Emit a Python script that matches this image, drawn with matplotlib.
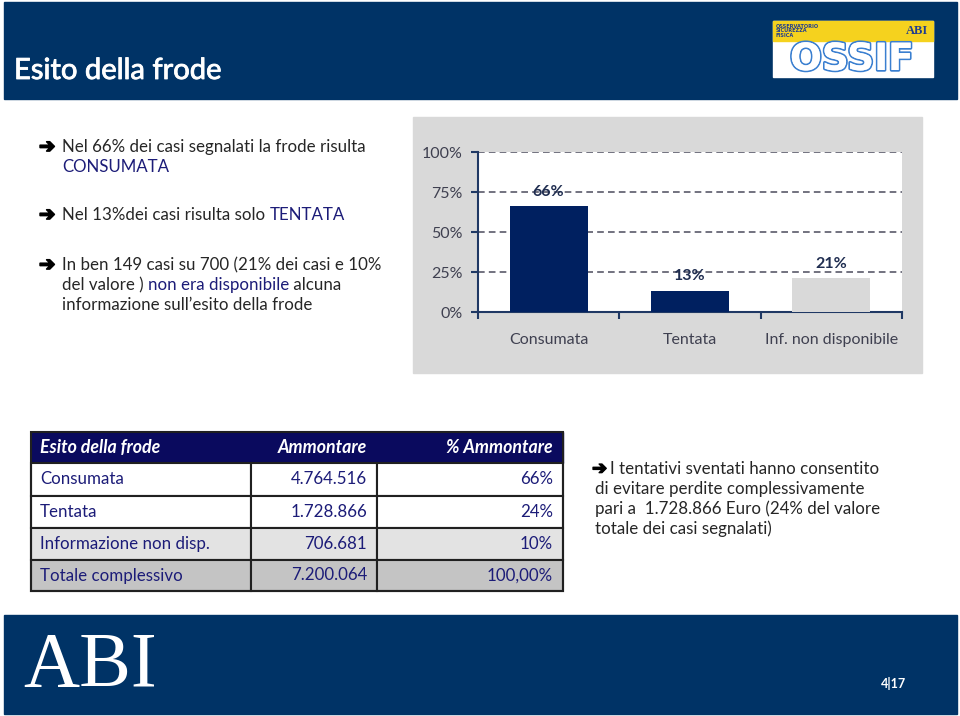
import matplotlib
matplotlib.use("Agg")
import matplotlib.pyplot as plt
from matplotlib.patches import Rectangle
import matplotlib.patheffects as pe

plt.rcParams['font.family'] = ['Lato', 'DejaVu Sans']

# chart data
cats = ['Consumata', 'Tentata', 'Inf. non disponibile']
vals = [0.66, 0.13, 0.21]
bar_colors = ['#002060', '#002060', '#D9D9D9']
yticks = [0, 0.25, 0.5, 0.75, 1.0]
ytick_labels = ['0%', '25%', '50%', '75%', '100%']

# table data
tab_header = ['Esito della frode', 'Ammontare', '% Ammontare']
tab_rows = ['Consumata', 'Tentata', 'Informazione non disp.', 'Totale complessivo']
tab_amount = ['4.764.516', '1.728.866', '706.681', '7.200.064']
tab_perc = ['66%', '24%', '10%', '100,00%']
row_fill = ['white', 'white', '#E3E3E3', '#C4C4C4']

NAVY = '#003366'
DARKTXT = '#262626'
HL = '#1C1C78'

fig = plt.figure(figsize=(9.6, 7.16), dpi=100)
bg = fig.add_axes([0, 0, 1, 1])
bg.set_xlim(0, 960)
bg.set_ylim(716, 0)
bg.axis('off')

# header band
bg.add_patch(Rectangle((4, 2), 953, 97, color=NAVY))
t = bg.text(14, 71, 'Esito della frode', color='white', fontsize=21, va='center', ha='left')
t.set_path_effects([pe.withStroke(linewidth=0.6, foreground='white')])

# OSSIF logo (rough)
bg.add_patch(Rectangle((773, 21), 160, 56, color='white'))
bg.add_patch(Rectangle((773, 21), 160, 20, color='#F5D21E'))
bg.text(776, 31, 'OSSERVATORIO\nSICUREZZA\nFISICA', fontsize=3.6, fontweight='bold',
        color='#1F3D8F', va='center', ha='left', linespacing=0.9, family='DejaVu Sans')
bg.text(928, 31, 'ABI', fontsize=9, fontweight='bold', color='#1F3D8F',
        va='center', ha='right', family='Liberation Serif')
t = bg.text(852, 60, 'OSSIF', fontsize=27, fontweight='bold', color='white',
            va='center', ha='center', family='DejaVu Sans')
t.set_path_effects([pe.withStroke(linewidth=2.5, foreground='#3A7FD0'), pe.Normal()])

# footer band
bg.add_patch(Rectangle((4, 615), 953, 99, color=NAVY))
bg.text(90, 667, 'ABI', fontsize=56, color='white', va='center', ha='center',
        family='Liberation Serif')
bg.text(893, 683, '4|17', fontsize=9, fontweight='bold', color='white', va='center', ha='center')


def colored_line(x, y, parts, size=12.2):
    prev = None
    for txt, col in parts:
        if prev is None:
            prev = bg.text(x, y, txt, color=col, fontsize=size, va='center', ha='left')
        else:
            prev = bg.annotate(txt, xy=(1, 0), xycoords=prev, color=col, fontsize=size,
                               va='bottom', ha='left')
    return prev


# bullets
arrow = '\u2794'
for yy in [147, 215, 265]:
    a = bg.text(39, yy, arrow, fontsize=14, fontweight='bold', color='black', va='center',
                ha='left', family='DejaVu Sans')
    a.set_path_effects([pe.withStroke(linewidth=1.2, foreground='black')])
colored_line(62, 147, [('Nel 66% dei casi segnalati la frode risulta', DARKTXT)])
colored_line(62, 167, [('CONSUMATA', HL)])
colored_line(62, 215, [('Nel 13%dei casi risulta solo ', DARKTXT), ('TENTATA', HL)])
colored_line(62, 265, [('In ben 149 casi su 700 (21% dei casi e 10%', DARKTXT)])
colored_line(62, 285, [('del valore ) ', DARKTXT), ('non era disponibile', HL), (' alcuna', DARKTXT)])
colored_line(62, 305, [('informazione sull\u2019esito della frode', DARKTXT)])

# chart panel
bg.add_patch(Rectangle((413, 117), 509, 256, color='#D9D9D9'))

ax = fig.add_axes([478 / 960, 1 - 312 / 716, 424 / 960, 160 / 716])
ax.set_facecolor('white')
ax.bar(range(len(cats)), vals, width=0.55, color=bar_colors, zorder=3)
ax.set_xlim(-0.5, 2.5)
ax.set_ylim(0, 1)
ax.set_yticks(yticks)
ax.set_yticklabels(ytick_labels)
ax.yaxis.grid(True, linestyle=(0, (4, 2.5)), color='#5A5A6A', linewidth=1.2)
ax.set_axisbelow(True)
for s in ['top', 'right']:
    ax.spines[s].set_visible(False)
for s in ['left', 'bottom']:
    ax.spines[s].set_color('#1F3864')
    ax.spines[s].set_linewidth(1.5)
ax.set_xticks([-0.5, 0.5, 1.5, 2.5])
ax.set_xticklabels([])
ax.set_xticks(range(len(cats)), minor=True)
ax.set_xticklabels(cats, minor=True)
ax.tick_params(axis='x', which='major', length=5, color='#1F3864', width=1.5)
ax.tick_params(axis='x', which='minor', length=0, pad=15, labelsize=11.5, labelcolor='#3F4050')
ax.tick_params(axis='y', length=5, color='#1F3864', width=1.5, pad=6, labelsize=11.5,
               labelcolor='#3F4050')
for i, v in enumerate(vals):
    ax.text(i, v + 0.092, f'{round(v * 100)}%', ha='center', va='center', fontsize=11.5,
            fontweight='bold', color='#1F2D50')

# table
x0, x1, x2, x3 = 31, 251, 377, 563
ytop = 432
heights = [31, 33, 32, 32, 31]
TS = 12.2
bg.add_patch(Rectangle((x0, ytop), x3 - x0, heights[0], color='#0A0A5E'))
bg.text(x0 + 9, ytop + heights[0] / 2, tab_header[0], color='white', fontsize=12.8,
        fontweight='bold', style='italic', va='center', ha='left')
bg.text(x2 - 10, ytop + heights[0] / 2, tab_header[1], color='white', fontsize=12.8,
        fontweight='bold', style='italic', va='center', ha='right')
bg.text(x3 - 10, ytop + heights[0] / 2, tab_header[2], color='white', fontsize=12.8,
        fontweight='bold', style='italic', va='center', ha='right')
y = ytop + heights[0]
for i, name in enumerate(tab_rows):
    h = heights[i + 1]
    for xa, xb in [(x0, x1), (x1, x2), (x2, x3)]:
        bg.add_patch(Rectangle((xa, y), xb - xa, h, facecolor=row_fill[i],
                               edgecolor='#202020', linewidth=1.5))
    bg.text(x0 + 9, y + h / 2, name, color=HL, fontsize=TS, va='center', ha='left')
    bg.text(x2 - 10, y + h / 2, tab_amount[i], color=HL, fontsize=TS, va='center', ha='right')
    bg.text(x3 - 10, y + h / 2, tab_perc[i], color=HL, fontsize=TS, va='center', ha='right')
    y += h
bg.add_patch(Rectangle((x0, ytop), x3 - x0, y - ytop, fill=False, edgecolor='#202020',
                       linewidth=1.5))

# side note
a = bg.text(592, 469, arrow, fontsize=13, fontweight='bold', color='black', va='center',
            ha='left', family='DejaVu Sans')
a.set_path_effects([pe.withStroke(linewidth=1.0, foreground='black')])
note = ['I tentativi sventati hanno consentito',
        'di evitare perdite complessivamente',
        'pari a  1.728.866 Euro (24% del valore',
        'totale dei casi segnalati)']
bg.text(610, 469, note[0], fontsize=12.2, color=DARKTXT, va='center', ha='left')
for k, line in enumerate(note[1:]):
    bg.text(595, 489 + 20 * k, line, fontsize=12.2, color=DARKTXT, va='center', ha='left')

fig.savefig('out.png', dpi=100)
